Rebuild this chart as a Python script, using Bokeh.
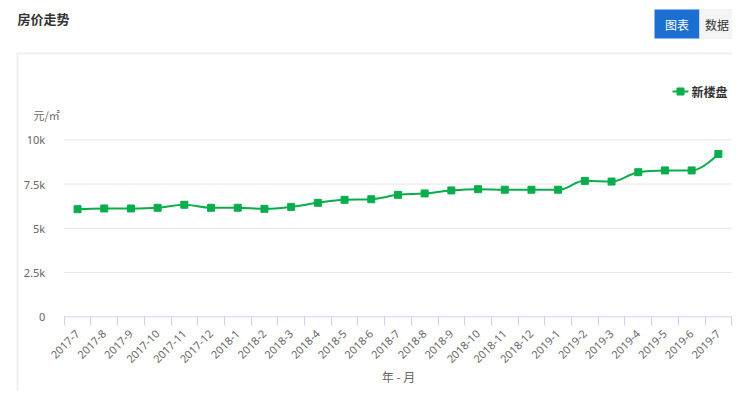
import math
from bokeh.plotting import figure
from bokeh.models import Range1d, LinearAxis, FixedTicker, Label, BoxAnnotation
from bokeh.embed import file_html
from bokeh.resources import INLINE

# ---- data ----
months = ["2017-7", "2017-8", "2017-9", "2017-10", "2017-11", "2017-12",
          "2018-1", "2018-2", "2018-3", "2018-4", "2018-5", "2018-6",
          "2018-7", "2018-8", "2018-9", "2018-10", "2018-11", "2018-12",
          "2019-1", "2019-2", "2019-3", "2019-4", "2019-5", "2019-6", "2019-7"]
prices = [6080, 6120, 6120, 6160, 6330, 6160, 6160, 6100, 6210, 6440, 6610, 6640,
          6890, 6970, 7140, 7210, 7180, 7180, 7180, 7680, 7640, 8170, 8270, 8270, 9200]
y_ticks = [0, 2500, 5000, 7500, 10000]
y_tick_labels = ["0", "2.5k", "5k", "7.5k", "10k"]
series_name = "新楼盘"
title_text = "房价走势"
y_name = "元/㎡"
x_name = "年 - 月"
buttons = ["图表", "数据"]

# ---- geometry (frame covers whole canvas) ----
W, H = 732, 391
X0 = 77.05      # px of first category centre
XS = 26.7       # px per category
Y0 = 316.3      # px of value 0
YS = 0.0177     # px per unit value
N = len(months)

def dx(px):
    return (px - X0) / XS

def dy(py):
    return (Y0 - py) / YS

GREEN = "#0aad4b"
CJK = "Noto Sans CJK SC"
NUM = "Noto Sans"

p = figure(width=W, height=H, output_backend="svg", toolbar_location=None,
           x_range=Range1d(dx(0), dx(W)), y_range=Range1d(dy(H), dy(0)),
           x_axis_type=None, y_axis_type=None,
           min_border_left=0, min_border_right=0, min_border_top=0, min_border_bottom=0)
p.outline_line_color = None
p.background_fill_color = "white"
p.border_fill_color = "white"
p.xgrid.visible = False
p.ygrid.visible = False

# ---- decorations: panel border, buttons, title ----
p.add_layout(BoxAnnotation(left=dx(16), right=dx(745), top=dy(52), bottom=dy(54),
                           fill_color="#f0f0f0", fill_alpha=1, line_color=None))
p.add_layout(BoxAnnotation(left=dx(16), right=dx(18), top=dy(52), bottom=dy(405),
                           fill_color="#f0f0f0", fill_alpha=1, line_color=None))
p.add_layout(BoxAnnotation(left=dx(654), right=dx(699), top=dy(9), bottom=dy(38),
                           fill_color="#1b6fd0", fill_alpha=1, line_color=None))
p.add_layout(BoxAnnotation(left=dx(699), right=dx(745), top=dy(9), bottom=dy(38),
                           fill_color="#f4f4f4", fill_alpha=1, line_color="#dddddd"))
p.add_layout(Label(x=dx(676.5), y=dy(23.5), text=buttons[0], text_font=CJK,
                   text_font_size="12px", text_color="white",
                   text_baseline="middle", text_align="center"))
p.add_layout(Label(x=dx(716.5), y=dy(23.5), text=buttons[1], text_font=CJK,
                   text_font_size="12px", text_color="#333333",
                   text_baseline="middle", text_align="center"))
p.add_layout(Label(x=dx(17), y=dy(18), text=title_text, text_font=CJK,
                   text_font_size="13px", text_font_style="bold", text_color="#333333",
                   text_baseline="middle", text_align="left"))

# ---- grid lines and axis line (only across the plot area) ----
gy = y_ticks[1:]
p.segment(x0=[-0.5] * len(gy), y0=gy, x1=[N - 0.5] * len(gy), y1=gy,
          line_color="#e6e6e6", line_width=1)
p.segment(x0=[-0.5], y0=[0], x1=[N - 0.5], y1=[0], line_color="#ccd6eb", line_width=1)

# x axis (category style: ticks at boundaries, labels at centres)
xa = LinearAxis(ticker=FixedTicker(ticks=list(range(N)),
                                   minor_ticks=[i - 0.5 for i in range(N + 1)]),
                fixed_location=0)
xa.major_label_overrides = {i: m for i, m in enumerate(months)}
xa.major_tick_line_color = None
xa.minor_tick_line_color = "#ccd6eb"
xa.minor_tick_in = 0
xa.minor_tick_out = 9
xa.axis_line_color = None
xa.major_label_orientation = math.pi / 4
xa.major_label_text_font_size = "11px"
xa.major_label_text_color = "#666666"
xa.major_label_text_font = NUM
xa.major_label_standoff = 6
p.add_layout(xa, "below")

ya = LinearAxis(ticker=FixedTicker(ticks=y_ticks), fixed_location=-0.5)
ya.major_label_overrides = {t: l for t, l in zip(y_ticks, y_tick_labels)}
ya.axis_line_color = None
ya.major_tick_line_color = None
ya.minor_tick_line_color = None
ya.major_label_text_font_size = "11px"
ya.major_label_text_color = "#666666"
ya.major_label_text_font = NUM
ya.major_label_standoff = 13
p.add_layout(ya, "left")

# ---- spline (Highcharts style) ----
xs = list(range(N))
ys = prices
sm = 1.5
den = sm + 1
lc = [None] * N
rc = [None] * N
for i in range(1, N - 1):
    lx, ly = xs[i - 1], ys[i - 1]
    px_, py_ = xs[i], ys[i]
    nx, ny = xs[i + 1], ys[i + 1]
    lcx = (sm * px_ + lx) / den
    lcy = (sm * py_ + ly) / den
    rcx = (sm * px_ + nx) / den
    rcy = (sm * py_ + ny) / den
    corr = 0
    if rcx != lcx:
        corr = ((rcy - lcy) * (rcx - px_)) / (rcx - lcx) + py_ - rcy
    lcy += corr
    rcy += corr
    if lcy > ly and lcy > py_:
        lcy = max(ly, py_); rcy = 2 * py_ - lcy
    elif lcy < ly and lcy < py_:
        lcy = min(ly, py_); rcy = 2 * py_ - lcy
    if rcy > ny and rcy > py_:
        rcy = max(ny, py_); lcy = 2 * py_ - rcy
    elif rcy < ny and rcy < py_:
        rcy = min(ny, py_); lcy = 2 * py_ - rcy
    lc[i] = (lcx, lcy)
    rc[i] = (rcx, rcy)

x0, y0, x1, y1, cx0, cy0, cx1, cy1 = [], [], [], [], [], [], [], []
for i in range(1, N):
    x0.append(xs[i - 1]); y0.append(ys[i - 1])
    x1.append(xs[i]); y1.append(ys[i])
    a = rc[i - 1] if rc[i - 1] else (xs[i - 1], ys[i - 1])
    b = lc[i] if lc[i] else (xs[i], ys[i])
    cx0.append(a[0]); cy0.append(a[1])
    cx1.append(b[0]); cy1.append(b[1])
p.bezier(x0=x0, y0=y0, x1=x1, y1=y1, cx0=cx0, cy0=cy0, cx1=cx1, cy1=cy1,
         line_color=GREEN, line_width=2)
p.scatter(xs, ys, marker="square", size=7, fill_color=GREEN, line_color=GREEN)

# ---- legend ----
p.line([dx(672), dx(688)], [dy(91), dy(91)], line_color=GREEN, line_width=2)
p.scatter([dx(680)], [dy(91)], marker="square", size=7, fill_color=GREEN, line_color=GREEN)
p.add_layout(Label(x=dx(691), y=dy(91), text=series_name, text_font=CJK,
                   text_font_size="12px", text_font_style="bold", text_color="#333333",
                   text_baseline="middle", text_align="left"))

# ---- axis names ----
p.add_layout(Label(x=dx(33), y=dy(114), text=y_name, text_font=CJK,
                   text_font_size="11px", text_color="#666666",
                   text_baseline="middle", text_align="left"))
p.add_layout(Label(x=dx(398), y=dy(376), text=x_name, text_font=CJK,
                   text_font_size="12px", text_color="#666666",
                   text_baseline="middle", text_align="center"))

open("out.html", "w").write(file_html(p, INLINE))
